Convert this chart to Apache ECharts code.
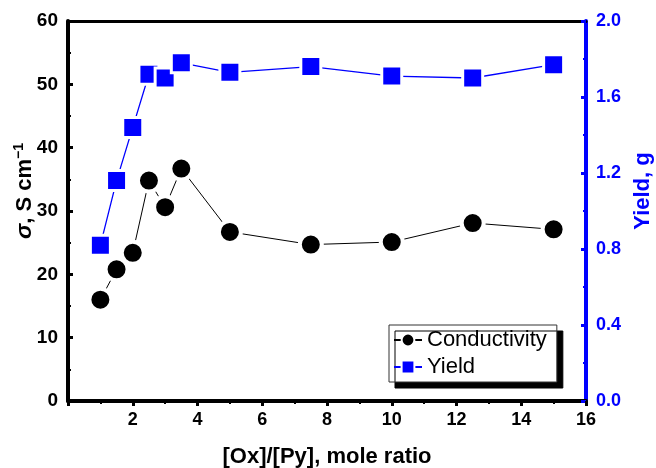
<!DOCTYPE html>
<html>
<head>
<meta charset="utf-8">
<script src="https://cdn.jsdelivr.net/npm/echarts@6/dist/echarts.min.js"></script>
<style>
  html, body { margin: 0; padding: 0; background: #fff; }
  #chart { width: 656px; height: 468px; }
</style>
</head>
<body>
<div id="chart"></div>
<script>
// [Ox]/[Py] mole ratio
var ratio = [1, 1.5, 2, 2.5, 3, 3.5, 5, 7.5, 10, 12.5, 15];
// conductivity, S cm-1
var conductivity = [16.0, 20.8, 23.4, 34.8, 30.6, 36.7, 26.7, 24.7, 25.1, 28.1, 27.1];
// yield, g
var yieldG = [0.82, 1.16, 1.44, 1.72, 1.70, 1.78, 1.73, 1.76, 1.71, 1.70, 1.77];

var leftTicks = { min: 0, max: 60, interval: 10 };
var rightTicks = { min: 0, max: 2.0, interval: 0.4 };
var xTicks = { min: 0, max: 16, interval: 2 };

var pairs = function (xs, ys) {
    return xs.map(function (x, i) { return [x, ys[i]]; });
};

var font = 'Arial, "Liberation Sans", sans-serif';
var blue = '#0000ff';

var chart = echarts.init(document.getElementById('chart'));
var option = {
    animation: false,
    backgroundColor: '#fff',
    textStyle: { fontFamily: font },
    grid: { left: 68, right: 70, top: 21, bottom: 67, containLabel: false, outerBoundsMode: 'none' },
    legend: {
        orient: 'vertical',
        left: 389,
        top: 325,
        itemWidth: 28,
        itemHeight: 16,
        itemGap: 5,
        padding: [4, 10, 4, 4],
        backgroundColor: '#fff',
        borderColor: '#333',
        borderWidth: 1,
        shadowColor: '#000',
        shadowBlur: 0,
        shadowOffsetX: 6,
        shadowOffsetY: 6,
        textStyle: { fontSize: 22, color: '#000', fontFamily: font },
        data: ['Conductivity', 'Yield']
    },
    xAxis: [
        {
            type: 'value',
            min: xTicks.min,
            max: xTicks.max,
            interval: xTicks.interval,
            name: '[Ox]/[Py], mole ratio',
            nameLocation: 'middle',
            nameGap: 45,
            nameTextStyle: { fontSize: 22, fontWeight: 'bold', color: '#000' },
            axisLine: { show: true, onZero: false, lineStyle: { color: '#000', width: 4 } },
            axisTick: { inside: false, length: 5, lineStyle: { width: 3 } },
            minorTick: { show: true, splitNumber: 2, length: 3, lineStyle: { color: '#000', width: 2 } },
            axisLabel: {
                fontSize: 18, fontWeight: 'bold', color: '#000', margin: 10,
                formatter: function (v) { return v === 0 ? '' : v; }
            },
            splitLine: { show: false }
        },
        {
            type: 'value',
            position: 'top',
            min: xTicks.min,
            max: xTicks.max,
            axisLine: { show: true, onZero: false, lineStyle: { color: '#000', width: 3 } },
            axisTick: { show: false },
            axisLabel: { show: false },
            splitLine: { show: false }
        }
    ],
    yAxis: [
        {
            type: 'value',
            min: leftTicks.min,
            max: leftTicks.max,
            interval: leftTicks.interval,
            name: '{s|σ}{n|, S cm}{p|−1}',
            nameLocation: 'middle',
            nameGap: 30,
            nameMoveOverlap: false,
            nameRotate: 90,
            nameTextStyle: {
                color: '#000',
                padding: [0, 0, 0, 40],
                rich: {
                    s: { fontSize: 23, fontStyle: 'italic', fontWeight: 'bold', fontFamily: font },
                    n: { fontSize: 22, fontWeight: 'bold', fontFamily: font },
                    p: { fontSize: 14, fontWeight: 'bold', fontFamily: font, padding: [0, 0, 12, 0] }
                }
            },
            axisLine: { show: true, onZero: false, lineStyle: { color: '#000', width: 4 } },
            axisTick: { inside: true, length: 5, lineStyle: { width: 3 } },
            minorTick: { show: true, splitNumber: 2, length: 3, lineStyle: { color: '#000', width: 2 } },
            axisLabel: { fontSize: 19, fontWeight: 'bold', color: '#000', margin: 10 },
            splitLine: { show: false }
        },
        {
            type: 'value',
            position: 'right',
            min: rightTicks.min,
            max: rightTicks.max,
            interval: rightTicks.interval,
            name: 'Yield, g',
            nameLocation: 'middle',
            nameGap: 46,
            nameRotate: 90,
            nameTextStyle: { fontSize: 22, fontWeight: 'bold', color: blue, padding: [0, 0, 0, 40] },
            axisLine: { show: true, onZero: false, lineStyle: { color: blue, width: 4 } },
            axisTick: { inside: true, length: 5, lineStyle: { width: 3 } },
            minorTick: { show: true, splitNumber: 2, length: 3, lineStyle: { color: blue, width: 2 } },
            axisLabel: {
                fontSize: 18, fontWeight: 'bold', color: blue, margin: 10,
                formatter: function (v) { return v.toFixed(1); }
            },
            splitLine: { show: false }
        }
    ],
    series: [
        {
            name: 'Conductivity',
            type: 'line',
            xAxisIndex: 0,
            yAxisIndex: 0,
            data: pairs(ratio, conductivity),
            symbol: 'circle',
            symbolSize: 22,
            lineStyle: { color: '#000', width: 1 },
            itemStyle: { color: '#000', borderColor: '#fff', borderWidth: 4 }
        },
        {
            name: 'Yield',
            type: 'line',
            xAxisIndex: 0,
            yAxisIndex: 1,
            data: pairs(ratio, yieldG),
            symbol: 'rect',
            symbolSize: 20,
            lineStyle: { color: blue, width: 1.3 },
            itemStyle: { color: blue, borderColor: '#fff', borderWidth: 3 }
        }
    ]
};
chart.setOption(option);
</script>
</body>
</html>
